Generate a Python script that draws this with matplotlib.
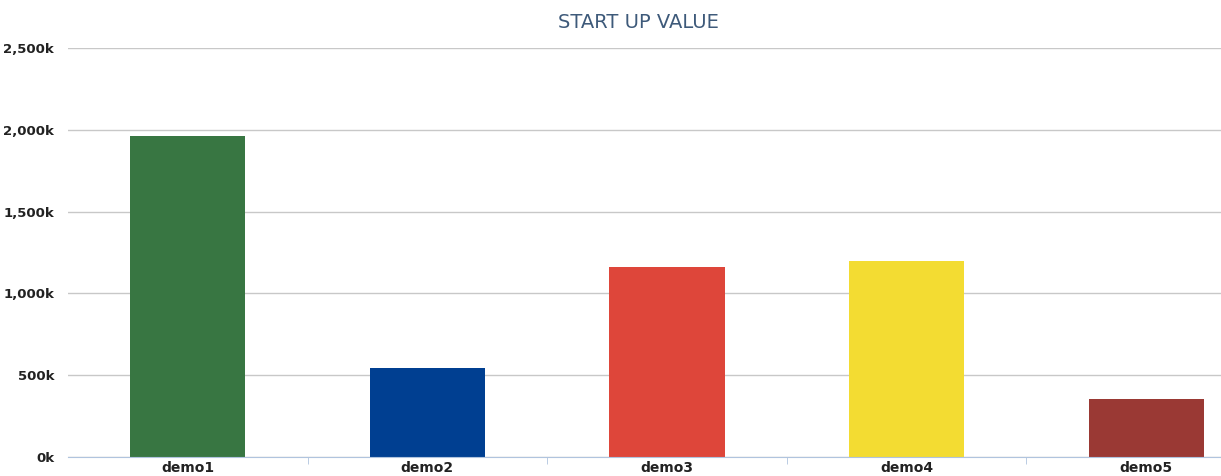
import matplotlib.pyplot as plt
from matplotlib.ticker import FuncFormatter


categories = ["demo1", "demo2", "demo3", "demo4", "demo5"]
values = [1960, 544, 1160, 1198, 355]
colors = ["#387642", "#003F91", "#DE463A", "#F3DC32", "#9A3934"]
y_ticks = [0, 500, 1000, 1500, 2000, 2500]


fig = plt.figure(figsize=(12.21, 4.76), dpi=100)

# plot area runs a bit past the right edge, like the original screenshot
ax = fig.add_axes([68 / 1221, 19 / 476, 1198 / 1221, 409 / 476])

x = range(len(categories))
ax.bar(x, values, width=0.48, color=colors, zorder=3)

ax.set_xlim(-0.5, len(categories) - 0.5)
ax.set_ylim(0, 2500)

ax.set_yticks(y_ticks)
ax.yaxis.set_major_formatter(FuncFormatter(lambda v, p: f"{int(v):,}k"))
ax.grid(axis="y", color="#C8C8C8", linewidth=1, zorder=0)

ax.set_xticks(list(x))
ax.set_xticklabels(categories)
# small ticks between categories
ax.set_xticks([i + 0.5 for i in range(len(categories) - 1)], minor=True)

for s in ["top", "right", "left"]:
    ax.spines[s].set_visible(False)
ax.spines["bottom"].set_color("#B0C4DE")
ax.spines["bottom"].set_zorder(4)

ax.tick_params(axis="y", length=0, pad=10, labelsize=9.5, labelcolor="#222222")
ax.tick_params(axis="x", which="major", length=0, pad=3, labelsize=10, labelcolor="#222222")
ax.tick_params(axis="x", which="minor", length=5, color="#B0C4DE")
for lbl in ax.get_yticklabels() + ax.get_xticklabels():
    lbl.set_fontweight("bold")

fig.text(638 / 1221, 1 - 22 / 476, "START UP VALUE", ha="center", va="center",
         fontsize=14, color="#3E5A7A")

plt.savefig("out.png", dpi=100)
